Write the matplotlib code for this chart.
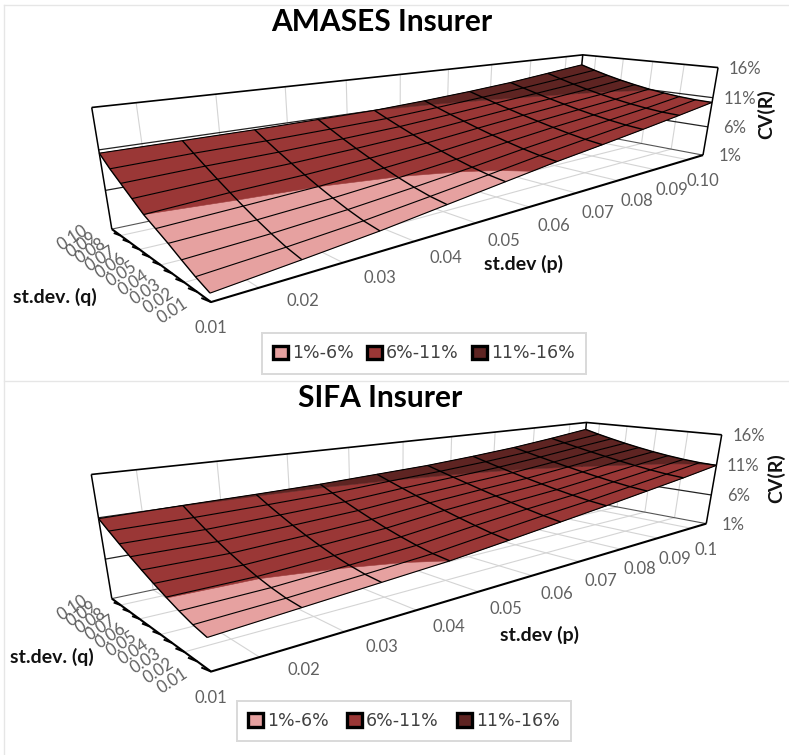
import matplotlib
matplotlib.use('Agg')
import matplotlib.pyplot as plt
import numpy as np
from matplotlib.lines import Line2D
from matplotlib.patches import Patch
from mpl_toolkits.mplot3d.art3d import Line3DCollection, Poly3DCollection

plt.rcParams['font.family'] = ['Lato', 'DejaVu Sans']

W, H = 789, 755

p_vals = [0.01, 0.02, 0.03, 0.04, 0.05, 0.06, 0.07, 0.08, 0.09, 0.10]
q_vals = [0.01, 0.02, 0.03, 0.04, 0.05, 0.06, 0.07, 0.08, 0.09, 0.10]
z_vals = [1, 6, 11, 16]
z_labels = ['1%', '6%', '11%', '16%']
p_grid = [0.015, 0.025, 0.035, 0.045, 0.055, 0.065, 0.075, 0.085, 0.095]
q_grid = [0.03, 0.05, 0.07, 0.09]

q_labels = ['0.01', '0.02', '0.03', '0.04', '0.05', '0.06', '0.07', '0.08', '0.09', '0.10']
p_labels_a = ['0.01', '0.02', '0.03', '0.04', '0.05', '0.06', '0.07', '0.08', '0.09', '0.10']
p_labels_s = ['0.01', '0.02', '0.03', '0.04', '0.05', '0.06', '0.07', '0.08', '0.09', '0.1']

# CV(R) in %, one row per st.dev (p), one column per st.dev. (q)
cv_amases = [
    [1.95, 2.65, 3.5, 4.4, 5.2, 6.0, 7.1, 8.2, 9.3, 10.6],
    [2.7, 3.21, 3.91, 4.71, 5.59, 6.52, 7.49, 8.51, 9.56, 10.65],
    [3.5, 3.91, 4.52, 5.23, 6.01, 6.86, 7.76, 8.69, 9.68, 10.7],
    [4.5, 4.83, 5.33, 5.94, 6.62, 7.38, 8.18, 9.02, 9.92, 10.85],
    [5.5, 5.79, 6.22, 6.75, 7.34, 7.99, 8.68, 9.42, 10.19, 11.0],
    [6.5, 6.78, 7.19, 7.68, 8.21, 8.78, 9.40, 10.03, 10.70, 11.4],
    [7.35, 7.64, 8.04, 8.50, 9.0, 9.53, 10.09, 10.68, 11.28, 11.9],
    [8.25, 8.47, 8.81, 9.21, 9.67, 10.18, 10.71, 11.28, 11.87, 12.5],
    [9.2, 9.32, 9.57, 9.91, 10.32, 10.80, 11.34, 11.94, 12.59, 13.3],
    [10.2, 10.27, 10.46, 10.74, 11.10, 11.56, 12.08, 12.68, 13.36, 14.1],
]
cv_sifa = [
    [4.5, 4.86, 5.40, 6.04, 6.73, 7.48, 8.28, 9.11, 9.99, 10.9],
    [5.0, 5.20, 5.59, 6.10, 6.72, 7.43, 8.22, 9.10, 10.04, 11.05],
    [5.5, 5.71, 6.09, 6.58, 7.17, 7.84, 8.57, 9.38, 10.23, 11.15],
    [6.0, 6.24, 6.65, 7.14, 7.70, 8.33, 9.01, 9.73, 10.49, 11.3],
    [6.75, 7.09, 7.55, 8.05, 8.58, 9.15, 9.73, 10.34, 10.96, 11.6],
    [7.55, 7.90, 8.32, 8.78, 9.26, 9.76, 10.28, 10.81, 11.35, 11.9],
    [8.35, 8.61, 8.97, 9.37, 9.82, 10.29, 10.79, 11.31, 11.85, 12.4],
    [9.2, 9.44, 9.78, 10.16, 10.58, 11.02, 11.49, 11.98, 12.48, 13.0],
    [10.05, 10.26, 10.58, 10.95, 11.36, 11.80, 12.27, 12.75, 13.27, 13.8],
    [11.0, 11.11, 11.33, 11.64, 12.01, 12.45, 12.94, 13.48, 14.06, 14.7],
]

bands = [(1, 6, '#E6A1A0'), (6, 11, '#9A3736'), (11, 16, '#5E2422')]
band_labels = ['1%-6%', '6%-11%', '11%-16%']
grey_text = '#606060'
grid_col = '#D4D4D4'


# Excel's 3D view is off-centre, so the projection matrix is built by hand
def camera_matrix(cy, lx, lz):
    cx, f = 395.0, 692.0
    elev, theta = np.radians(22.4), np.radians(50.2)
    d0, r0, ly = 2.092, -0.6155, 0.95
    sp, sq = (max(p_vals) - min(p_vals)), (max(q_vals) - min(q_vals))
    to_cam = np.array([
        [lx * np.cos(theta) / sp, ly * np.sin(theta) / sq, 0, 0],
        [lx * np.sin(theta) / sp, -ly * np.cos(theta) / sq, 0, 0],
        [0, 0, lz / 15, 0],
        [0, 0, 0, 1.0],
    ])
    to_cam[:, 3] = to_cam @ np.array([-min(p_vals), -min(q_vals), -1, 1.0])
    to_cam[0, 3] += d0
    to_cam[1, 3] += r0
    ce, se = np.cos(elev), np.sin(elev)
    depth = np.array([ce, 0, -se, se])
    up = np.array([se, 0, ce, -ce])
    right = np.array([0, 1.0, 0, 0])
    view = np.array([
        cx * depth + f * right,
        cy * depth - f * up,
        [0, 0, 0, -1.0],
        depth,
    ])
    return view @ to_cam


def clip_band(poly, lo, hi):
    for level, keep_above in ((lo, True), (hi, False)):
        out = []
        for i in range(len(poly)):
            a, b = poly[i], poly[(i + 1) % len(poly)]
            in_a = a[2] >= level if keep_above else a[2] <= level
            in_b = b[2] >= level if keep_above else b[2] <= level
            if in_a:
                out.append(a)
            if in_a != in_b:
                t = (level - a[2]) / (b[2] - a[2])
                out.append(tuple(a[k] + t * (b[k] - a[k]) for k in range(3)))
        poly = out
        if not poly:
            break
    return poly


def add_line(ax, xs, ys, zs, color, lw, zorder):
    seg = [list(zip(xs, ys, zs))]
    col = Line3DCollection(seg, colors=color, linewidths=lw)
    col.set_zorder(zorder)
    ax.add_collection3d(col)


def draw_chart(cv, cy, lx, lz, p_labels):
    ax = fig.add_axes([0, -17 / H, 1, W / H], projection='3d')
    ax.set_axis_off()
    ax.patch.set_visible(False)
    ax.computed_zorder = False
    ax.viewLim.intervalx = (0, W)
    ax.viewLim.intervaly = (H + 17, -17)
    M = camera_matrix(cy, lx, lz)
    ax.get_proj = lambda: M

    def to_px(x, y, z):
        v = M @ np.array([x, y, z, 1.0])
        return v[0] / v[3], v[1] / v[3]

    p0, p1 = min(p_vals), max(p_vals)
    q0, q1 = min(q_vals), max(q_vals)
    z0, z1 = min(z_vals), max(z_vals)

    # gridlines on floor and walls
    for p in p_grid:
        add_line(ax, [p, p], [q0, q1], [z0, z0], grid_col, 0.8, 1)
        add_line(ax, [p, p], [q1, q1], [z0, z1], grid_col, 0.8, 1)
    for q in q_grid:
        add_line(ax, [p0, p1], [q, q], [z0, z0], grid_col, 0.8, 1)
        add_line(ax, [p1, p1], [q, q], [z0, z1], grid_col, 0.8, 1)

    # box of the back walls
    for z in z_vals[1:3]:
        add_line(ax, [p0, p1, p1], [q1, q1, q0], [z, z, z], '#222222', 0.9, 2)
    add_line(ax, [p0, p1, p1], [q1, q1, q0], [z0, z0, z0], '#555555', 0.8, 2)
    add_line(ax, [p0, p1, p1], [q1, q1, q0], [z1, z1, z1], 'black', 1.2, 2)
    for x, y in ((p0, q1), (p1, q1), (p1, q0)):
        add_line(ax, [x, x], [y, y], [z0, z1], 'black', 1.1, 2)

    # surface, cut into the three bands
    for lo, hi, col in bands:
        polys = []
        for i in range(len(p_vals) - 1):
            for j in range(len(q_vals) - 1):
                cell = [(p_vals[i], q_vals[j], cv[i][j]),
                        (p_vals[i + 1], q_vals[j], cv[i + 1][j]),
                        (p_vals[i + 1], q_vals[j + 1], cv[i + 1][j + 1]),
                        (p_vals[i], q_vals[j + 1], cv[i][j + 1])]
                part = clip_band(cell, lo, hi)
                if len(part) > 2:
                    polys.append(part)
        surf = Poly3DCollection(polys, facecolor=col, edgecolor=col, linewidth=0.4)
        surf.set_zorder(3)
        ax.add_collection3d(surf)

    # mesh lines
    for i, p in enumerate(p_vals):
        add_line(ax, [p] * len(q_vals), q_vals, cv[i], 'black', 1.0, 4)
    for j, q in enumerate(q_vals):
        add_line(ax, p_vals, [q] * len(p_vals), [row[j] for row in cv], 'black', 0.8, 4)

    # front edges of the floor and the q tick marks
    add_line(ax, [p1, p0, p0], [q0, q0, q1], [z0, z0, z0], 'black', 1.5, 5)
    for q in q_vals[:-1]:
        add_line(ax, [p0, p0 - 0.0003], [q, q + 0.0048], [z0, z0], 'black', 1.4, 5)

    # tick labels, pushed off the axis in pixels
    for p, s in zip(p_vals, p_labels):
        ax.annotate(s, to_px(p, q0, z0), xytext=(0, -26), textcoords='offset pixels',
                    ha='center', va='center', fontsize=12, color=grey_text)
    for q, s in zip(q_vals, q_labels):
        ax.annotate(s, to_px(p0, q, z0), xytext=(-39, -9), textcoords='offset pixels',
                    ha='center', va='center', fontsize=12, color=grey_text,
                    rotation=33, rotation_mode='anchor')
    for z, s in zip(z_vals, z_labels):
        ax.annotate(s, to_px(p1, q0, z), xytext=(27, -1), textcoords='offset pixels',
                    ha='center', va='center', fontsize=12, color=grey_text)
    return ax


def px_text(x, y, s, **kw):
    fig.text(x / W, 1 - y / H, s, ha='center', va='center', **kw)


def px_legend(cx, cy, colsp):
    handles = [Patch(facecolor=c, edgecolor='black', linewidth=2.4, joinstyle='round')
               for _, _, c in bands]
    leg = fig.legend(handles, band_labels, ncol=3, loc='center',
                     bbox_to_anchor=(cx / W, 1 - cy / H),
                     prop={'family': 'DejaVu Sans', 'size': 12.5},
                     labelcolor='#404040', handlelength=0.85, handleheight=0.85,
                     handletextpad=0.25, columnspacing=colsp, borderpad=0.65,
                     borderaxespad=0, fancybox=False, edgecolor='#D9D9D9', framealpha=1)
    leg.get_frame().set_linewidth(1.4)


fig = plt.figure(figsize=(W / 100, H / 100), dpi=100, facecolor='white')

draw_chart(cv_amases, 264.0, 3.26, 0.52, p_labels_a)
draw_chart(cv_sifa, 633.5, 3.30, 0.53, p_labels_s)

# chart frames
frame_col = '#E6E6E6'
for xs, ys in (([4, 4], [5, H]), ([4, W], [5, 5]), ([4, W], [381, 381])):
    fig.add_artist(Line2D([x / W for x in xs], [1 - y / H for y in ys],
                          color=frame_col, lw=1.0))

px_text(382, 22, 'AMASES Insurer', fontsize=21.5, fontweight='bold', color='black')
px_text(380, 398, 'SIFA Insurer', fontsize=21.5, fontweight='bold', color='black')
axis_font = dict(fontsize=14, fontweight='bold', color='#111111')
px_text(523, 264, 'st.dev (p)', **axis_font)
px_text(55, 297, 'st.dev. (q)', **axis_font)
px_text(766, 114, 'CV(R)', rotation=90, **axis_font)
px_text(539, 635, 'st.dev (p)', **axis_font)
px_text(52, 657, 'st.dev. (q)', **axis_font)
px_text(776, 478, 'CV(R)', rotation=90, **axis_font)

px_legend(424, 353.5, 0.75)
px_legend(404, 721, 1.03)

fig.savefig('out.png', dpi=100)
